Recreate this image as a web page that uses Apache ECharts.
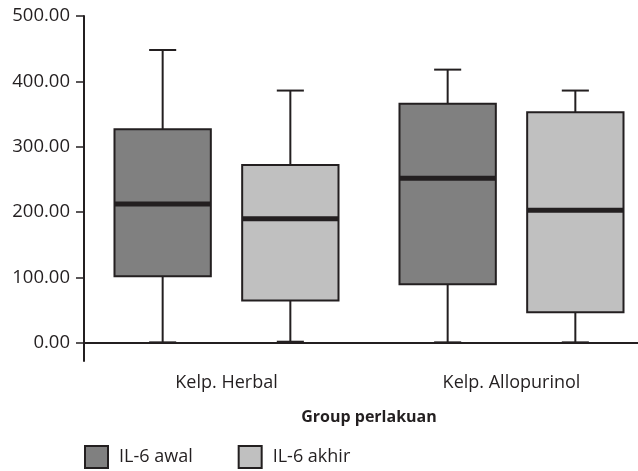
<!DOCTYPE html>
<html>
<head>
<meta charset="utf-8">
<script src="https://cdn.jsdelivr.net/npm/echarts@6/dist/echarts.min.js"></script>
<style>
  html, body { margin: 0; padding: 0; background: #ffffff; }
  #chart { width: 638px; height: 471px; }
</style>
</head>
<body>
<div id="chart"></div>
<script>
// Groups on the x axis
const categories = ['Kelp. Herbal', 'Kelp. Allopurinol'];
// Five-number summaries per group: [min, Q1, median, Q3, max]
const il6Awal = [
  [1, 102, 212.5, 327, 448],
  [1, 90, 252, 366, 418]
];
const il6Akhir = [
  [2, 65, 190, 272, 386],
  [1, 47, 203, 353, 386]
];
// Y axis tick values
const yTicks = [0, 100, 200, 300, 400, 500];

const INK = '#231f20';
const DARK_FILL = '#808080';
const LIGHT_FILL = '#c0c0c0';

// Box geometry as fractions of one category band
const BOX_RATIO = 0.338;
const CAP_RATIO = 0.095;
const OFFSET_RATIO = 0.224;

function withIndex(rows) {
  return rows.map((r, i) => [i].concat(r));
}

function boxRenderer(offsetRatio, fill) {
  return function (params, api) {
    const cat = api.value(0);
    const band = api.size([1, 0])[0];
    const cx = api.coord([cat, 0])[0] + band * offsetRatio;
    const half = band * BOX_RATIO / 2;
    const capHalf = band * CAP_RATIO / 2;
    const y = (i) => api.coord([cat, api.value(i)])[1];
    const yMin = y(1), yQ1 = y(2), yMed = y(3), yQ3 = y(4), yMax = y(5);
    const line = { stroke: INK, lineWidth: 2 };
    return {
      type: 'group',
      children: [
        { type: 'line', shape: { x1: cx, y1: yMax, x2: cx, y2: yQ3 }, style: line },
        { type: 'line', shape: { x1: cx, y1: yQ1, x2: cx, y2: yMin }, style: line },
        { type: 'line', shape: { x1: cx - capHalf, y1: yMax, x2: cx + capHalf, y2: yMax }, style: line },
        { type: 'line', shape: { x1: cx - capHalf, y1: yMin, x2: cx + capHalf, y2: yMin }, style: line },
        { type: 'rect', shape: { x: cx - half, y: yQ3, width: half * 2, height: yQ1 - yQ3 },
          style: { fill: fill, stroke: INK, lineWidth: 2 } },
        { type: 'line', shape: { x1: cx - half, y1: yMed, x2: cx + half, y2: yMed },
          style: { stroke: INK, lineWidth: 5 } }
      ]
    };
  };
}

const chart = echarts.init(document.getElementById('chart'), null, { renderer: 'canvas' });

const option = {
  animation: false,
  backgroundColor: '#ffffff',
  textStyle: { fontFamily: 'Open Sans', color: INK },
  grid: { left: 84, top: 16, width: 570, height: 345, containLabel: false, outerBoundsMode: 'none' },
  legend: {
    left: 79,
    top: 440,
    itemWidth: 23,
    itemHeight: 22,
    itemGap: 45,
    icon: 'rect',
    textStyle: { fontFamily: 'Open Sans', fontSize: 18, color: INK, padding: [0, 0, 0, 6] },
    data: [
      { name: 'IL-6 awal', itemStyle: { color: DARK_FILL, borderColor: INK, borderWidth: 2 } },
      { name: 'IL-6 akhir', itemStyle: { color: LIGHT_FILL, borderColor: INK, borderWidth: 2 } }
    ]
  },
  xAxis: {
    type: 'category',
    data: categories,
    boundaryGap: true,
    name: 'Group perlakuan',
    nameLocation: 'middle',
    nameGap: 48,
    nameTextStyle: { fontFamily: 'Open Sans', fontSize: 16, fontWeight: 'bold', color: INK },
    axisLine: { lineStyle: { color: INK, width: 2 } },
    axisTick: { alignWithLabel: true, length: 7, lineStyle: { color: INK, width: 1.5 } },
    axisLabel: { fontFamily: 'Open Sans', fontSize: 18, color: INK, margin: 13 },
    splitLine: { show: false }
  },
  yAxis: {
    type: 'value',
    min: -27.5,
    max: 500,
    axisLine: { show: true, lineStyle: { color: INK, width: 2 } },
    axisTick: { show: true, length: 8, customValues: yTicks, lineStyle: { color: INK, width: 1.5 } },
    axisLabel: {
      customValues: yTicks,
      fontFamily: 'Open Sans',
      fontSize: 18.5,
      color: INK,
      margin: 14,
      formatter: (v) => v.toFixed(2)
    },
    splitLine: { show: false }
  },
  series: [
    {
      name: 'IL-6 awal',
      type: 'custom',
      itemStyle: { color: DARK_FILL },
      renderItem: boxRenderer(-OFFSET_RATIO, DARK_FILL),
      encode: { x: 0, y: [1, 2, 3, 4, 5] },
      data: withIndex(il6Awal)
    },
    {
      name: 'IL-6 akhir',
      type: 'custom',
      itemStyle: { color: LIGHT_FILL },
      renderItem: boxRenderer(OFFSET_RATIO, LIGHT_FILL),
      encode: { x: 0, y: [1, 2, 3, 4, 5] },
      data: withIndex(il6Akhir)
    }
  ]
};

chart.setOption(option);
</script>
</body>
</html>
